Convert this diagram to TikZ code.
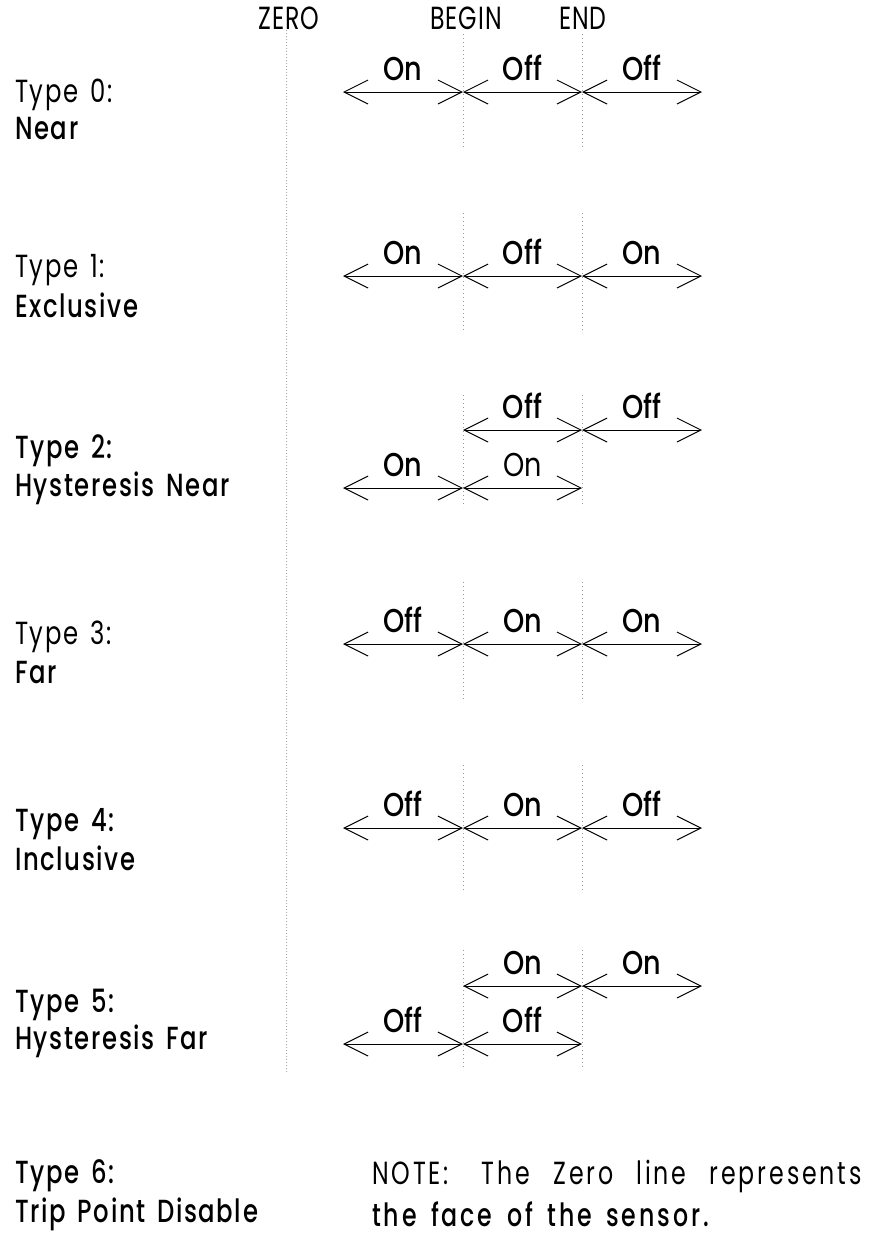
\documentclass[tikz,border=0pt]{standalone}
\usepackage{fontspec}
\setmainfont{Poppins}[FakeStretch=0.75]
\newfontfamily\hdrfont{Poppins}[FakeStretch=0.74, LetterSpace=3]
\newfontfamily\lightlbl{Poppins}[FakeStretch=0.76, LetterSpace=5, WordSpace=1.5]
\newfontfamily\boldlbl{Poppins Medium}[FakeStretch=0.76, LetterSpace=5, WordSpace=1.5]
\newfontfamily\notelight{Poppins}[FakeStretch=0.74, LetterSpace=9, WordSpace=2.5]
\newfontfamily\notebold{Poppins Medium}[FakeStretch=0.74, LetterSpace=9, WordSpace=1.6]
\newfontfamily\seglblfont{Poppins Medium}[FakeStretch=0.82]
\newfontfamily\seglightfont{Poppins}[FakeStretch=0.82]
\usetikzlibrary{arrows.meta}
\tikzset{
  lt/.style={anchor=west, inner sep=0pt, font=\lightlbl\fontsize{32}{34}\selectfont},
  bd/.style={anchor=west, inner sep=0pt, font=\boldlbl\fontsize{32}{34}\selectfont},
  ntl/.style={anchor=west, inner sep=0pt, font=\notelight\fontsize{32}{34}\selectfont},
  ntb/.style={anchor=west, inner sep=0pt, font=\notebold\fontsize{32}{34}\selectfont},
  hdr/.style={anchor=center, inner sep=0pt, font=\hdrfont\fontsize{32}{34}\selectfont},
  tip/.tip={Straight Barb[length=24pt,width=24pt,line width=1pt]},
  seg/.style={line width=1pt, tip-tip},
  seglabel/.style={anchor=base, inner sep=0pt, yshift=12pt, font=\seglblfont\fontsize{33}{35}\selectfont},
  seglabellight/.style={anchor=base, inner sep=0pt, yshift=12pt, font=\seglightfont\fontsize{33}{35}\selectfont},
  zline/.style={gray!70, line width=0.6pt, dash pattern=on 0.8pt off 2.2pt},
  mline/.style={gray!80, line width=0.6pt, dash pattern=on 0.8pt off 3.2pt},
}
\begin{document}
\begin{tikzpicture}[x=1pt,y=-1pt]
\useasboundingbox (0,0) rectangle (870,1240);
% header
\node[hdr] (zero) at (289,18) {ZERO};
\node[hdr] (begin) at (466,18) {BEGIN};
\node[hdr] (end) at (583,18) {END};
% zero line
\coordinate (zt) at (286,30);
\coordinate (zb) at (286,1073);
\draw[zline] (zt) -- (zb);

% Row 0
\node[lt] (t0) at (15,95) {Type 0:};
\node[bd] (n0) at (15,129) {Near};
\coordinate (b0t) at (463,34); \coordinate (b0b) at (463,150);
\coordinate (e0t) at (582,34); \coordinate (e0b) at (582,150);
\draw[mline] (b0t) -- (b0b); \draw[mline] (e0t) -- (e0b);
\coordinate (a0) at (343,92); \coordinate (a0b) at (463,92);
\coordinate (a0e) at (582,92); \coordinate (a0r) at (702,92);
\draw[seg] (a0) -- node[seglabel] (l0a) {On} (a0b);
\draw[seg] (a0b) -- node[seglabel] (l0b) {Off} (a0e);
\draw[seg] (a0e) -- node[seglabel] (l0c) {Off} (a0r);

% Row 1
\node[lt] (t1) at (15,270) {Type 1:};
\node[bd] (n1) at (15,305) {Exclusive};
\coordinate (b1t) at (463,213); \coordinate (b1b) at (463,333);
\coordinate (e1t) at (582,213); \coordinate (e1b) at (582,333);
\draw[mline] (b1t) -- (b1b); \draw[mline] (e1t) -- (e1b);
\coordinate (a1) at (343,276); \coordinate (a1b) at (463,276);
\coordinate (a1e) at (582,276); \coordinate (a1r) at (702,276);
\draw[seg] (a1) -- node[seglabel] (l1a) {On} (a1b);
\draw[seg] (a1b) -- node[seglabel] (l1b) {Off} (a1e);
\draw[seg] (a1e) -- node[seglabel] (l1c) {On} (a1r);

% Row 2
\node[bd] (t2) at (15,451) {Type 2:};
\node[bd] (n2) at (15,488) {Hysteresis Near};
\coordinate (b2t) at (463,395); \coordinate (b2b) at (463,507);
\coordinate (e2t) at (582,395); \coordinate (e2b) at (582,507);
\draw[mline] (b2t) -- (b2b); \draw[mline] (e2t) -- (e2b);
\coordinate (u2b) at (463,430); \coordinate (u2e) at (582,430); \coordinate (u2r) at (702,430);
\draw[seg] (u2b) -- node[seglabel] (l2a) {Off} (u2e);
\draw[seg] (u2e) -- node[seglabel] (l2b) {Off} (u2r);
\coordinate (d2) at (343,488); \coordinate (d2b) at (463,488); \coordinate (d2e) at (582,488);
\draw[seg] (d2) -- node[seglabel] (l2c) {On} (d2b);
\draw[seg] (d2b) -- node[seglabellight] (l2d) {On} (d2e);

% Row 3
\node[lt] (t3) at (15,637) {Type 3:};
\node[bd] (n3) at (15,673) {Far};
\coordinate (b3t) at (463,582); \coordinate (b3b) at (463,702);
\coordinate (e3t) at (582,582); \coordinate (e3b) at (582,702);
\draw[mline] (b3t) -- (b3b); \draw[mline] (e3t) -- (e3b);
\coordinate (a3) at (343,644); \coordinate (a3b) at (463,644);
\coordinate (a3e) at (582,644); \coordinate (a3r) at (702,644);
\draw[seg] (a3) -- node[seglabel] (l3a) {Off} (a3b);
\draw[seg] (a3b) -- node[seglabel] (l3b) {On} (a3e);
\draw[seg] (a3e) -- node[seglabel] (l3c) {On} (a3r);

% Row 4
\node[bd] (t4) at (15,824) {Type 4:};
\node[bd] (n4) at (15,858) {Inclusive};
\coordinate (b4t) at (463,765); \coordinate (b4b) at (463,890);
\coordinate (e4t) at (582,765); \coordinate (e4b) at (582,890);
\draw[mline] (b4t) -- (b4b); \draw[mline] (e4t) -- (e4b);
\coordinate (a4) at (343,828); \coordinate (a4b) at (463,828);
\coordinate (a4e) at (582,828); \coordinate (a4r) at (702,828);
\draw[seg] (a4) -- node[seglabel] (l4a) {Off} (a4b);
\draw[seg] (a4b) -- node[seglabel] (l4b) {On} (a4e);
\draw[seg] (a4e) -- node[seglabel] (l4c) {Off} (a4r);

% Row 5
\node[bd] (t5) at (15,1005) {Type 5:};
\node[bd] (n5) at (15,1041) {Hysteresis Far};
\coordinate (b5t) at (463,950); \coordinate (b5b) at (463,1070);
\coordinate (e5t) at (582,950); \coordinate (e5b) at (582,1070);
\draw[mline] (b5t) -- (b5b); \draw[mline] (e5t) -- (e5b);
\coordinate (u5b) at (463,986); \coordinate (u5e) at (582,986); \coordinate (u5r) at (702,986);
\draw[seg] (u5b) -- node[seglabel] (l5a) {On} (u5e);
\draw[seg] (u5e) -- node[seglabel] (l5b) {On} (u5r);
\coordinate (d5) at (343,1044); \coordinate (d5b) at (463,1044); \coordinate (d5e) at (582,1044);
\draw[seg] (d5) -- node[seglabel] (l5c) {Off} (d5b);
\draw[seg] (d5b) -- node[seglabel] (l5d) {Off} (d5e);

% Row 6
\node[bd] (t6) at (15,1176) {Type 6:};
\node[bd] (n6) at (15,1214) {Trip Point Disable};
\node[ntl] (note1) at (372,1176) {NOTE:\hspace{10pt} The Zero line represents};
\node[ntb] (note2) at (372,1214) {the face of the sensor.};
\end{tikzpicture}
\end{document}
